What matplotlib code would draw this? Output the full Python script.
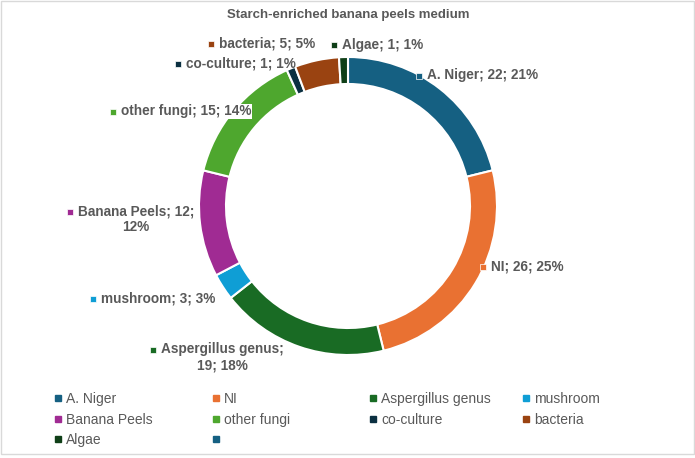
import matplotlib.pyplot as plt
from matplotlib.lines import Line2D
from matplotlib.patches import Rectangle

plt.rcParams['font.family'] = ['Liberation Sans', 'DejaVu Sans']

# data
categories = ['A. Niger', 'NI', 'Aspergillus genus', 'mushroom', 'Banana Peels',
              'other fungi', 'co-culture', 'bacteria', 'Algae']
counts = [22, 26, 19, 3, 12, 15, 1, 5, 1]
colors = ['#156082', '#E97132', '#196B24', '#0F9ED5', '#A02B93',
          '#4EA72E', '#0B3041', '#9A4311', '#0F3F17']
title = 'Starch-enriched banana peels medium'

W, H = 695, 458
gray = '#595959'

fig = plt.figure(figsize=(W / 100, H / 100), dpi=100)
ax = fig.add_axes([0, 0, 1, 1])

# border of chart area
ax.add_patch(Rectangle((0.5, 4.5), W - 1.5, H - 5, fill=False, edgecolor='#d9d9d9', lw=1))

wedges, _ = ax.pie(counts, colors=colors, startangle=90, counterclock=False,
                   center=(348, H - 206), radius=149, frame=True,
                   wedgeprops=dict(width=27, edgecolor='white', linewidth=1.5))
ax.set_xlim(0, W)
ax.set_ylim(0, H)
ax.set_aspect('equal')
ax.axis('off')

ax.text(348, H - 15, title, ha='center', va='center', fontsize=9.5,
        fontweight='bold', color=gray)

total = sum(counts)
# label layout: marker position (pixels from top-left), line breaking
label_pos = {
    'A. Niger': (419, 76, False),
    'NI': (483, 267, False),
    'Aspergillus genus': (153, 350, True),
    'mushroom': (93, 299, False),
    'Banana Peels': (70, 212, True),
    'other fungi': (113, 112, False),
    'co-culture': (178, 64, False),
    'bacteria': (211, 44, False),
    'Algae': (334, 45, False),
}
for cat, n, c in zip(categories, counts, colors):
    mx, my, wrap = label_pos[cat]
    pct = round(100 * n / total)
    if wrap:
        txt = f'{cat}; {n};\n{pct}%' if cat == 'Banana Peels' else f'{cat};\n{n}; {pct}%'
    else:
        txt = f'{cat}; {n}; {pct}%'
    ax.plot(mx, H - my, marker='s', markersize=4.5, color=c,
            markeredgecolor='white', markeredgewidth=0.5, zorder=5)
    bbox = dict(facecolor='white', edgecolor='none', pad=0.5) if cat == 'other fungi' else None
    ax.text(mx + 8, H - my + 7.5, txt, ha='left', va='top', multialignment='center',
            fontsize=9.8, fontweight='bold', color=gray, linespacing=1.15,
            bbox=bbox, zorder=6)

# legend, filled row by row in 4 columns
leg_names = categories + ['']
leg_colors = colors + ['#156082']
ncol = 4
col_x = [55, 213, 370, 523]
for j in range(ncol):
    idx = list(range(j, len(leg_names), ncol))
    handles = [Line2D([], [], marker='s', linestyle='', markersize=4.5,
                      color=leg_colors[i]) for i in idx]
    labels = [leg_names[i] for i in idx]
    fig.legend(handles, labels, loc='upper left',
               bbox_to_anchor=(col_x[j] / W, (H - 392) / H),
               frameon=False, fontsize=10, labelcolor=gray,
               handlelength=0.5, handletextpad=0.3, labelspacing=0.47,
               borderpad=0, borderaxespad=0)

fig.savefig('out.png', dpi=100)
